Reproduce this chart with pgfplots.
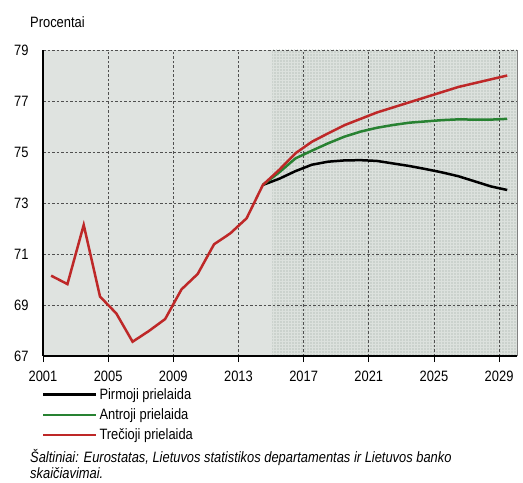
\documentclass[border=0pt]{standalone}
\usepackage{pgfplots}
\pgfplotsset{compat=1.18}
\usepackage{fontspec}
\setmainfont{Liberation Sans}[FakeStretch=0.86]
\usetikzlibrary{patterns}
\definecolor{bgA}{HTML}{DFE3E0}
\definecolor{bgB}{HTML}{CBD2CD}
\definecolor{patc}{HTML}{DCE1DD}
\definecolor{gridc}{HTML}{505050}
\definecolor{lgreen}{RGB}{40,130,50}
\definecolor{lred}{RGB}{190,40,40}
\newcommand\f{\fontsize{15}{18}\selectfont}
\newcommand\fs{\fontsize{15}{16.5}\selectfont}
\pgfplotstableread{
x y
2014.5 73.71
2015.5 73.95
2016.5 74.25
2017.5 74.50
2018.5 74.62
2019.5 74.67
2020.5 74.68
2021.5 74.65
2022.5 74.55
2023.5 74.45
2024.5 74.33
2025.5 74.20
2026.5 74.05
2027.5 73.85
2028.5 73.65
2029.5 73.51
}\first
\pgfplotstableread{
x y
2014.5 73.71
2015.5 74.20
2016.5 74.75
2017.5 75.05
2018.5 75.34
2019.5 75.60
2020.5 75.80
2021.5 75.95
2022.5 76.06
2023.5 76.15
2024.5 76.20
2025.5 76.25
2026.5 76.28
2027.5 76.27
2028.5 76.27
2029.5 76.30
}\second
\pgfplotstableread{
x y
2001.5 70.15
2002.5 69.82
2003.5 72.14
2004.5 69.33
2005.5 68.67
2006.5 67.56
2007.5 67.98
2008.5 68.45
2009.5 69.61
2010.5 70.22
2011.5 71.38
2012.5 71.81
2013.5 72.40
2014.5 73.71
2015.5 74.30
2016.5 74.95
2017.5 75.40
2018.5 75.73
2019.5 76.05
2020.5 76.30
2021.5 76.55
2022.5 76.75
2023.5 76.95
2024.5 77.15
2025.5 77.35
2026.5 77.55
2027.5 77.70
2028.5 77.85
2029.5 78.00
}\third
\begin{document}
\begin{tikzpicture}
\begin{axis}[
  name=ax,
  set layers,
  scale only axis,
  width=474pt, height=306pt,
  xmin=2001, xmax=2030.1,
  ymin=67, ymax=79,
  xtick={2001,2005,...,2029},
  ytick={67,69,...,79},
  axis x line*=bottom,
  axis y line*=left,
  axis line style={black, line width=1.1pt, -},
  grid=major,
  major grid style={gridc, line width=0.6pt, dash pattern=on 2.5pt off 2pt},
  tick align=outside,
  major tick length=6pt,
  xtick style={black, line width=0.8pt},
  ytick style={draw=none},
  /pgf/number format/assume math mode=true,
  /pgf/number format/1000 sep={},
  xticklabel style={font=\f, yshift=-5pt},
  yticklabel style={font=\f, xshift=-5pt},
  legend style={at={(0,0)}, anchor=north west, xshift=-4pt, yshift=-28pt,
    draw=none, fill=none, font=\f, row sep=4pt},
  legend cell align=left,
  legend image code/.code={\draw[#1, line width=2.3pt] (0pt,0pt) -- (53pt,0pt);},
  clip=false,
]
\begin{pgfonlayer}{axis background}
\fill[bgA] (axis cs:2001,67) rectangle (axis cs:2030.1,79);
\fill[bgB] (axis cs:2015.05,67) rectangle (axis cs:2030.1,79);
\fill[pattern=grid, pattern color=patc] (axis cs:2015.05,67) rectangle (axis cs:2030.1,79);
\draw[gray, line width=0.8pt] (axis cs:2030.1,67) -- (axis cs:2030.1,79);
\end{pgfonlayer}
\addplot[black, line width=2.5pt] table {\first};
\addlegendentry{Pirmoji prielaida}
\addplot[lgreen, line width=2.5pt] table {\second};
\addlegendentry{Antroji prielaida}
\addplot[lred, line width=2.5pt] table {\third};
\addlegendentry{Trečioji prielaida}
\end{axis}
\node[anchor=base west, font=\f, inner sep=0pt] at ([shift={(-13pt,22.5pt)}]ax.north west) {Procentai};
\node[anchor=north west, font=\fs\itshape, inner sep=0pt, align=left] at ([shift={(-13pt,-93pt)}]ax.south west)
  {Šaltiniai: Eurostatas, Lietuvos statistikos departamentas ir Lietuvos banko\\skaičiavimai.};
\path ([shift={(-43pt,-126pt)}]ax.south west) rectangle ([shift={(6pt,50pt)}]ax.north east);
\end{tikzpicture}
\end{document}
